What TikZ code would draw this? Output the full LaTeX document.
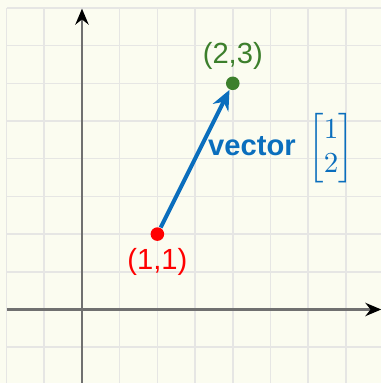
\documentclass[tikz,border=0pt]{standalone}
\usepackage{amsmath}
\usepackage{fontspec}
\setmainfont{Liberation Sans}
\usetikzlibrary{arrows.meta,positioning}

\definecolor{paper}{HTML}{FBFCF0}
\definecolor{gridline}{HTML}{E6E6E4}
\definecolor{axisgray}{HTML}{707070}
\definecolor{vecblue}{HTML}{0A6EBD}
\definecolor{ptred}{HTML}{FF0000}
\definecolor{ptgreen}{HTML}{3C7F2C}

\tikzset{
    axis/.style={draw=axisgray, line width=1pt, -{Stealth[length=6pt,width=5pt,black]}},
    dot/.style={circle, fill=#1, inner sep=0pt, minimum size=0.18cm},
    ptlabel/.style={text=#1, font=\fontsize{11}{13}\selectfont},
    vec/.style={draw=vecblue, line width=1.5pt, -{Stealth[length=7.5pt,width=6.5pt]}}
}

\begin{document}
\begin{tikzpicture}[x=1cm, y=1cm]
    \useasboundingbox[fill=paper] (-1.0875,-0.975) rectangle (3.9655,4.105);
    \draw[gridline, line width=0.6pt, step=0.5] (-1,-1) grid (4,4);

    % axes
    \draw[axis] (-1,0) -- (3.97,0);
    \draw[axis] (0,-1) -- (0,3.99);

    % points
    \node[dot=ptred] (p1) at (1,1) {};
    \node[dot=ptgreen] (p2) at (2,3) {};
    \node[ptlabel=ptred, below=-1pt of p1] (l1) {(1,1)};
    \node[ptlabel=ptgreen, above=-1pt of p2] (l2) {(2,3)};

    % vector
    \draw[vec] (p1) -- (p2);
    \node[anchor=west, text=vecblue, font=\fontsize{11}{13}\selectfont] (vl) at (1.55,2.135)
        {\textbf{vector}\, $\begin{bmatrix}1\\2\end{bmatrix}$};
\end{tikzpicture}
\end{document}
